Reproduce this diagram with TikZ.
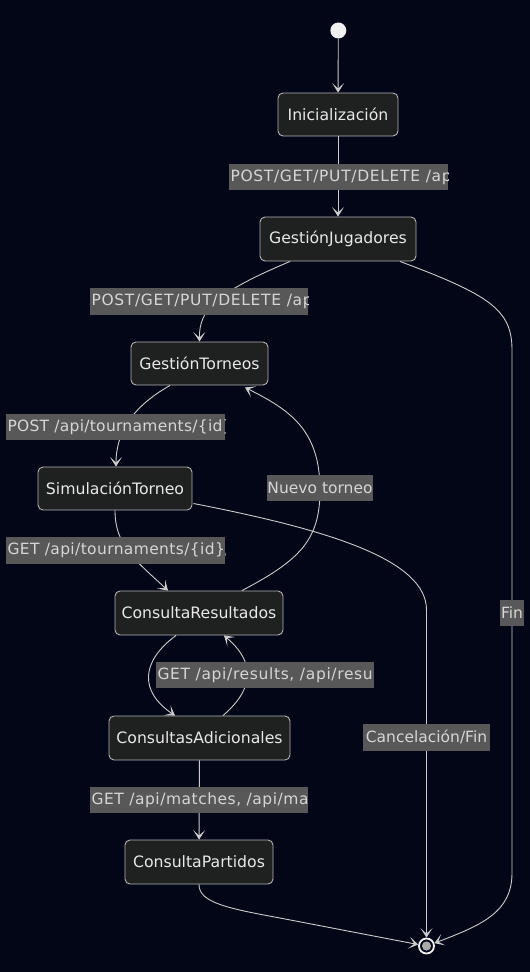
\documentclass[tikz,border=0pt]{standalone}
\usepackage{fontspec}
\setmainfont{DejaVu Sans}
\usetikzlibrary{arrows.meta,calc}
\definecolor{bgc}{RGB}{2,6,23}
\definecolor{nodefill}{RGB}{31,32,32}
\definecolor{nodeborder}{RGB}{180,180,180}
\definecolor{nodetext}{RGB}{232,232,232}
\definecolor{lblbg}{RGB}{88,88,88}
\definecolor{lbltext}{RGB}{214,214,214}
\definecolor{edgec}{RGB}{204,204,204}
\definecolor{startc}{RGB}{240,240,240}
\definecolor{innerc}{RGB}{170,170,170}
\tikzset{
  statebox/.style={draw=nodeborder, line width=0.9pt, fill=nodefill, rounded corners=5pt,
    text=nodetext, inner sep=0pt, font=\fontsize{15.7}{18}\selectfont},
  lblbox/.style={fill=lblbg, inner sep=0pt},
  lbltxt/.style={text=lbltext, inner sep=0pt, font=\fontsize{15.5}{18}\selectfont},
  edge/.style={draw=edgec, line width=0.9pt, -{Stealth[length=9.5pt,width=12pt,inset=5.5pt]}},
}
\newcommand{\lsp}[1]{\addfontfeature{LetterSpace=#1}}
\begin{document}
\begin{tikzpicture}[x=1pt,y=-1pt]
\fill[bgc] (0,0) rectangle (530,972);
\useasboundingbox (0,0) rectangle (530,972);

% states
\node[circle, fill=startc, minimum size=16pt, inner sep=0pt] (start) at (338.3,30.5) {};
\node[statebox, minimum width=120pt, minimum height=43pt] (ini) at (338,114.5) {Inicialización};
\node[statebox, minimum width=156pt, minimum height=44pt] (gj) at (338,239) {GestiónJugadores};
\node[statebox, minimum width=137pt, minimum height=43pt] (gt) at (199.5,363.5) {GestiónTorneos};
\node[statebox, minimum width=154pt, minimum height=43pt] (sim) at (115,488.5) {SimulaciónTorneo};
\node[statebox, minimum width=168pt, minimum height=44pt] (cr) at (199,613) {ConsultaResultados};
\node[statebox, minimum width=181pt, minimum height=44pt] (ca) at (199.5,738) {ConsultasAdicionales};
\node[statebox, minimum width=148pt, minimum height=44pt] (cp) at (199,862) {ConsultaPartidos};
\node[circle, draw=startc, line width=1.8pt, fill=bgc, minimum size=15pt, inner sep=0pt] (endc) at (426.5,946) {};
\fill[innerc] (endc.center) circle (4.6pt);

% edges
\draw[edge] (start) -- (ini);
\draw[edge] (ini) -- (gj);
\draw[edge] ($(gj.south)+(-48,0)$) .. controls (215,293) and (199,310) .. (gt.north);
\draw[edge] ($(gj.south)+(62,0)$) .. controls (490,295) and (512,310) .. (512,350)
   -- (512,873) .. controls (512,912) and (482,925) .. (endc.20);
\draw[edge] ($(gt.south)+(-29.5,0)$) .. controls (130,408) and (116,435) .. ($(sim.north)+(1,0)$);
\draw[edge] ($(sim.south)+(0,0)$) .. controls (115,545) and (135,560) .. ($(cr.north)+(-31,0)$);
\draw[edge] ($(sim.east)+(1,15)$) .. controls (330,530) and (426.5,560) .. (426.5,610) -- (endc.north);
\draw[edge] ($(cr.north)+(43,0)$) .. controls (300,560) and (320,540) .. (320,490)
   .. controls (320,430) and (290,410) .. ($(gt.south)+(45.5,2)$);
\draw[edge] ($(cr.south)+(-23,0)$) .. controls (140,662) and (140,692) .. ($(ca.north)+(-24.5,0)$);
\draw[edge] ($(ca.north)+(23.5,0)$) .. controls (255,688) and (255,662) .. ($(cr.south)+(25,0)$);
\draw[edge] (ca) -- (cp);
\draw[edge] (cp.south) .. controls (199,902) and (225,908) .. (280,918) -- (endc.170);

% labels
\node[lblbox, minimum width=219pt, minimum height=26pt] (l1) at (338.5,177) {};
\begin{scope}\clip (l1.south west) rectangle (l1.north east);
\node[lbltxt, anchor=west] (l1t) at ($(l1.west)+(1.5,0)$) {\lsp{4.4}POST/GET/PUT/DELETE /ap};
\end{scope}
\node[lblbox, minimum width=218pt, minimum height=27pt] (l2) at (199,301.5) {};
\begin{scope}\clip (l2.south west) rectangle (l2.north east);
\node[lbltxt, anchor=west] (l2t) at ($(l2.west)+(1.5,0)$) {\lsp{4.4}POST/GET/PUT/DELETE /ap};
\end{scope}
\node[lblbox, minimum width=219pt, minimum height=26pt] (l3) at (115.5,427) {};
\begin{scope}\clip (l3.south west) rectangle (l3.north east);
\node[lbltxt, anchor=west] (l3t) at ($(l3.west)+(1.5,0)$) {\lsp{1.8}POST /api/tournaments/\{id\}};
\end{scope}
\node[lblbox, minimum width=219pt, minimum height=27pt] (l4) at (115.5,550.5) {};
\begin{scope}\clip (l4.south west) rectangle (l4.north east);
\node[lbltxt, anchor=west] (l4t) at ($(l4.west)+(1.5,0)$) {\lsp{2.4}GET /api/tournaments/\{id\}/};
\end{scope}
\node[lblbox, minimum width=218pt, minimum height=26pt] (l5) at (265,675) {};
\begin{scope}\clip (l5.south west) rectangle (l5.north east);
\node[lbltxt, anchor=west] (l5t) at ($(l5.west)+(1.5,0)$) {\lsp{4.2}GET /api/results, /api/resu};
\end{scope}
\node[lblbox, minimum width=218pt, minimum height=26pt] (l6) at (199,800) {};
\begin{scope}\clip (l6.south west) rectangle (l6.north east);
\node[lbltxt, anchor=west] (l6t) at ($(l6.west)+(1.5,0)$) {\lsp{3.4}GET /api/matches, /api/ma};
\end{scope}
\node[lblbox, minimum width=106pt, minimum height=26pt] (l7) at (320,488) {};
\node[lbltxt] (l7t) at (l7.center) {Nuevo torneo};
\node[lblbox, minimum width=127pt, minimum height=27pt] (l8) at (426.5,737.5) {};
\node[lbltxt] (l8t) at (l8.center) {Cancelación/Fin};
\node[lblbox, minimum width=24pt, minimum height=26pt] (l9) at (512,613) {};
\node[lbltxt] (l9t) at (l9.center) {Fin};
\end{tikzpicture}
\end{document}
